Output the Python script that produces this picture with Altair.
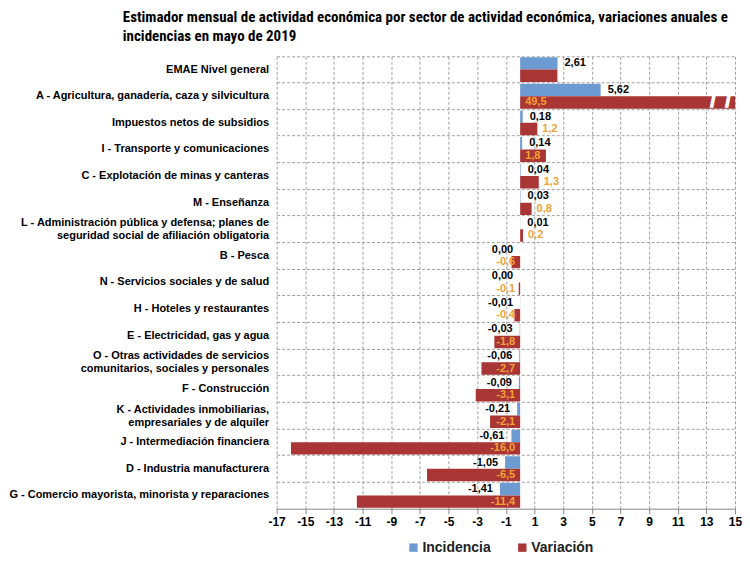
import altair as alt
import pandas as pd

categories = [
    "EMAE Nivel general",
    "A -  Agricultura, ganadería, caza y silvicultura",
    "Impuestos netos de subsidios",
    "I - Transporte y comunicaciones",
    "C - Explotación de minas y canteras",
    "M - Enseñanza",
    "L - Administración pública y defensa; planes de|seguridad social de afiliación obligatoria",
    "B - Pesca",
    "N - Servicios sociales y de salud",
    "H - Hoteles y restaurantes",
    "E - Electricidad, gas y agua",
    "O - Otras actividades de servicios|comunitarios, sociales y personales",
    "F - Construcción",
    "K - Actividades inmobiliarias,|empresariales y de alquiler",
    "J - Intermediación financiera",
    "D - Industria manufacturera",
    "G - Comercio mayorista, minorista y reparaciones",
]
incidencia = [2.61, 5.62, 0.18, 0.14, 0.04, 0.03, 0.01, 0.00, 0.00, -0.01,
              -0.03, -0.06, -0.09, -0.21, -0.61, -1.05, -1.41]
variacion = [2.6, 49.5, 1.2, 1.8, 1.3, 0.8, 0.2, -0.6, -0.1, -0.4,
             -1.8, -2.7, -3.1, -2.1, -16.0, -6.5, -11.4]
show_var_label = [False] + [True] * 16
x_ticks = list(range(-17, 16, 2))
break_marks = [13.45, 14.5]

BLUE = "#6D9BD1"
RED = "#A93535"
ORANGE = "#F2A233"
FONT = "Liberation Sans"
TITLE_FONT = "'Liberation Sans Narrow', 'Roboto Condensed', 'DejaVu Sans Condensed', 'Liberation Sans'"

rows = []
for c, inc, var, sv in zip(categories, incidencia, variacion, show_var_label):
    rows.append(dict(cat=c, serie="Incidencia", value=inc,
                     label=f"{inc:.2f}".replace(".", ","),
                     anchor=inc, side="pos" if inc > 0 else "neg"))
    anchor = 0.0 if (var >= 1.5 or var < 0) else var
    rows.append(dict(cat=c, serie="Variación", value=var,
                     label=(f"{var:.1f}".replace(".", ",") if sv else ""),
                     anchor=anchor, side="pos" if var > 0 else "neg"))
df = pd.DataFrame(rows)

xscale = alt.Scale(domain=[-17, 15], nice=False, zero=False)
xaxis = alt.Axis(title=None, values=x_ticks, tickCount=len(x_ticks),
                 labelExpr="'' + datum.value", labelOverlap=False, labelFlush=False,
                 labelFont=FONT, labelFontSize=12, labelFontWeight="bold",
                 labelColor="#000", grid=True, gridDash=[3, 2], gridColor="#a0a0a0",
                 domainColor="#888", tickColor="#888", tickSize=5, labelPadding=3)
yscale = alt.Scale(paddingInner=0, paddingOuter=0)
yaxis = alt.Axis(title=None, labelExpr="split(datum.label, '|')",
                 labelFont=FONT, labelFontSize=11, labelFontWeight="bold",
                 labelColor="#000", labelLineHeight=13, labelPadding=8,
                 labelBaseline={"condition": {"test": "indexof(datum.label, '|') >= 0",
                                              "value": "line-bottom"},
                                "value": "middle"},
                 ticks=False, domain=False, grid=True, bandPosition=0,
                 gridDash=[3, 2], gridColor="#a0a0a0", labelLimit=400)
yoff = alt.YOffset("serie:N", sort=["Incidencia", "Variación"],
                   scale=alt.Scale(paddingOuter=0.07, paddingInner=0))


def X(field):
    return alt.X(field, scale=xscale, axis=xaxis)


def Y():
    return alt.Y("cat:N", sort=categories, scale=yscale, axis=yaxis)


bars = alt.Chart(df).mark_bar(clip=True).encode(
    x=X("value:Q"),
    x2=alt.datum(0),
    y=Y(),
    yOffset=yoff,
    color=alt.Color("serie:N", sort=["Incidencia", "Variación"],
                    scale=alt.Scale(domain=["Incidencia", "Variación"], range=[BLUE, RED]),
                    legend=alt.Legend(title=None, orient="none", direction="horizontal",
                                      legendX=130, legendY=485,
                                      symbolType="square", symbolSize=70,
                                      labelFont=FONT, labelFontSize=14,
                                      labelFontWeight="bold", labelColor="#222",
                                      columnPadding=24, labelOffset=2)),
)


def text_layer(serie, side, color, align, dx):
    return alt.Chart(df).transform_filter(
        (alt.datum.serie == serie) & (alt.datum.side == side)
    ).mark_text(align=align, baseline="middle", dx=dx, font=FONT, fontSize=11,
                fontWeight="bold", color=color).encode(
        x=X("anchor:Q"),
        y=Y(),
        yOffset=yoff,
        text="label:N",
    )


brk = pd.DataFrame({"x": break_marks, "cat": [categories[1]] * len(break_marks),
                    "serie": ["Variación"] * len(break_marks), "t": ["/"] * len(break_marks)})
breaks = alt.Chart(brk).mark_text(font=FONT, fontSize=17, fontWeight="bold",
                                  color="white", stroke="white", strokeWidth=1.5,
                                  baseline="middle").encode(
    x=X("x:Q"),
    y=Y(),
    yOffset=yoff,
    text="t:N",
)

chart = alt.layer(
    bars,
    breaks,
    text_layer("Incidencia", "pos", "#000", "left", 7),
    text_layer("Incidencia", "neg", "#000", "right", -7),
    text_layer("Variación", "pos", ORANGE, "left", 5),
    text_layer("Variación", "neg", ORANGE, "right", -5),
).properties(
    width=459, height=453,
    title=alt.TitleParams(
        ["Estimador mensual de actividad económica por sector de actividad económica, variaciones anuales e",
         "incidencias en mayo de 2019"],
        anchor="start", frame="group", dx=-154, font=TITLE_FONT,
        fontSize=15, fontWeight="bold", color="#000", lineHeight=19, offset=12),
    padding={"left": 0, "top": 2, "right": 0, "bottom": 0},
).configure_view(stroke=None)

chart.save("out.html", embed_options={"renderer": "svg", "actions": False})
